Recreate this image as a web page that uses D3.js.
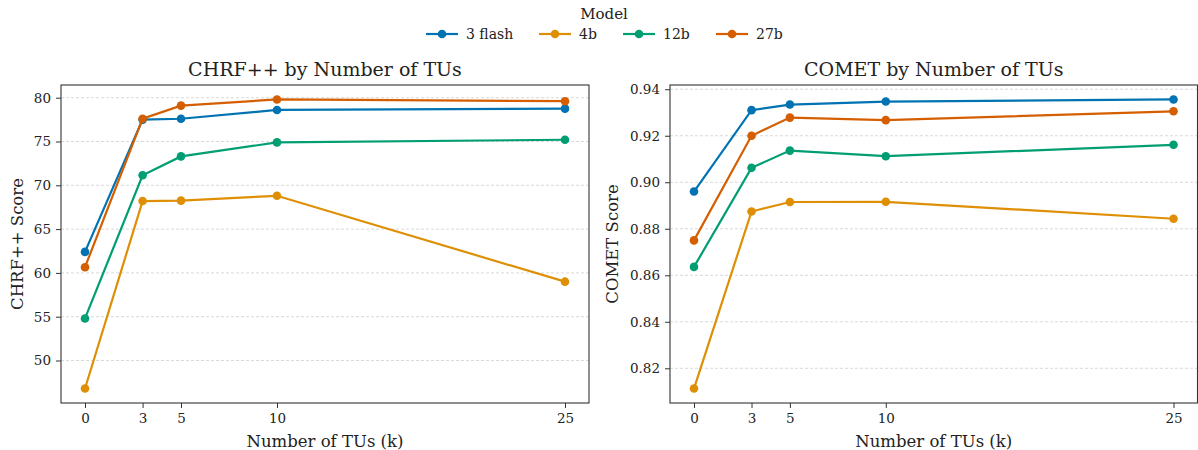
<!DOCTYPE html>
<html>
<head>
<meta charset="utf-8">
<script src="https://cdn.jsdelivr.net/npm/d3@7"></script>
<style>
  body { margin: 0; background: #fff; }
  svg text { font-family: "DejaVu Serif", serif; }
</style>
</head>
<body>
<div id="chart"></div>
<script>
// data
const tus = [0, 3, 5, 10, 25]
const models = ["3 flash", "4b", "12b", "27b"]
const colors = ["#0173B2", "#DE8F05", "#029E73", "#D55E00"]

const chrf_flash = [62.4, 77.5, 77.6, 78.6, 78.75]
const chrf_4b = [46.8, 68.2, 68.25, 68.8, 59.0]
const chrf_12b = [54.8, 71.15, 73.3, 74.9, 75.2]
const chrf_27b = [60.65, 77.6, 79.1, 79.8, 79.6]

const comet_flash = [0.896, 0.931, 0.9334, 0.9347, 0.9356]
const comet_4b = [0.8113, 0.8874, 0.8915, 0.8916, 0.8843]
const comet_12b = [0.8636, 0.9062, 0.9136, 0.9112, 0.9161]
const comet_27b = [0.875, 0.920, 0.9278, 0.9267, 0.9305]

const chrfTicks = [50, 55, 60, 65, 70, 75, 80]
const cometTicks = [0.82, 0.84, 0.86, 0.88, 0.90, 0.92, 0.94]

const W = 1198, H = 450
const FONT = "DejaVu Serif, serif"

const svg = d3.select("#chart").append("svg")
    .attr("width", W)
    .attr("height", H)
    .attr("font-family", FONT)

// draw one panel
function panel(box, series, yTicks, fmt, title, yLabel) {
    const g = svg.append("g")

    const all = series.flat()
    const lo = d3.min(all), hi = d3.max(all)
    const pad = (hi - lo) * 0.05

    const x = d3.scaleLinear()
        .domain([-1.25, 26.25])
        .range([box.left, box.right])
    const y = d3.scaleLinear()
        .domain([lo - pad, hi + pad])
        .range([box.bottom, box.top])

    // horizontal grid
    g.append("g")
        .selectAll("line")
        .data(yTicks)
        .join("line")
        .attr("x1", box.left)
        .attr("x2", box.right)
        .attr("y1", d => y(d))
        .attr("y2", d => y(d))
        .attr("stroke", "#cfcfcf")
        .attr("stroke-width", 0.8)
        .attr("stroke-dasharray", "3,2")

    const xAxis = g.append("g")
        .attr("transform", "translate(0," + box.bottom + ")")
        .call(d3.axisBottom(x).tickValues(tus).tickSize(5).tickPadding(5).tickFormat(d3.format("d")))
    const yAxis = g.append("g")
        .attr("transform", "translate(" + box.left + ",0)")
        .call(d3.axisLeft(y).tickValues(yTicks).tickSize(5).tickPadding(5).tickFormat(fmt))

    for (const ax of [xAxis, yAxis]) {
        ax.attr("font-family", FONT)
        ax.select(".domain").remove()
        ax.selectAll("line").attr("stroke", "#333")
        ax.selectAll("text")
            .attr("fill", "#222")
            .style("font-size", "13.5px")
    }

    // lines and markers
    const line = d3.line()
        .x((d, i) => x(tus[i]))
        .y(d => y(d))

    series.forEach((vals, k) => {
        g.append("path")
            .datum(vals)
            .attr("fill", "none")
            .attr("stroke", colors[k])
            .attr("stroke-width", 2.2)
            .attr("d", line)
        g.append("g")
            .selectAll("circle")
            .data(vals)
            .join("circle")
            .attr("cx", (d, i) => x(tus[i]))
            .attr("cy", d => y(d))
            .attr("r", 4.3)
            .attr("fill", colors[k])
    })

    // frame
    g.append("rect")
        .attr("x", box.left)
        .attr("y", box.top)
        .attr("width", box.right - box.left)
        .attr("height", box.bottom - box.top)
        .attr("fill", "none")
        .attr("stroke", "#333")
        .attr("stroke-width", 1.1)

    g.append("text")
        .attr("x", (box.left + box.right) / 2)
        .attr("y", box.top - 9)
        .attr("text-anchor", "middle")
        .style("font-size", "19px")
        .attr("fill", "#222")
        .text(title)

    g.append("text")
        .attr("x", (box.left + box.right) / 2)
        .attr("y", H - 3)
        .attr("text-anchor", "middle")
        .style("font-size", "16.5px")
        .attr("fill", "#222")
        .text("Number of TUs (k)")

    g.append("text")
        .attr("transform", "translate(" + (box.left - box.labelGap) + "," + ((box.top + box.bottom) / 2) + ") rotate(-90)")
        .attr("text-anchor", "middle")
        .style("font-size", "16.5px")
        .attr("fill", "#222")
        .text(yLabel)
}

panel({ left: 61, right: 589, top: 85, bottom: 403, labelGap: 38 },
    [chrf_flash, chrf_4b, chrf_12b, chrf_27b],
    chrfTicks, d3.format("d"), "CHRF++ by Number of TUs", "CHRF++ Score")

panel({ left: 670, right: 1197.5, top: 85, bottom: 403, labelGap: 52 },
    [comet_flash, comet_4b, comet_12b, comet_27b],
    cometTicks, d3.format(".2f"), "COMET by Number of TUs", "COMET Score")

// legend
const legend = svg.append("g")
svg.append("text")
    .attr("x", 604)
    .attr("y", 19)
    .attr("text-anchor", "middle")
    .style("font-size", "15px")
    .attr("fill", "#222")
    .text("Model")

const legX = [426, 539, 623, 716]
models.forEach((m, k) => {
    const item = legend.append("g").attr("transform", "translate(" + legX[k] + ",34)")
    item.append("line")
        .attr("x1", 0).attr("x2", 32)
        .attr("stroke", colors[k])
        .attr("stroke-width", 2.2)
    item.append("circle")
        .attr("cx", 16).attr("r", 4.3)
        .attr("fill", colors[k])
    item.append("text")
        .attr("x", 40)
        .attr("y", 5)
        .style("font-size", "14px")
        .attr("fill", "#222")
        .text(m)
})
</script>
</body>
</html>
